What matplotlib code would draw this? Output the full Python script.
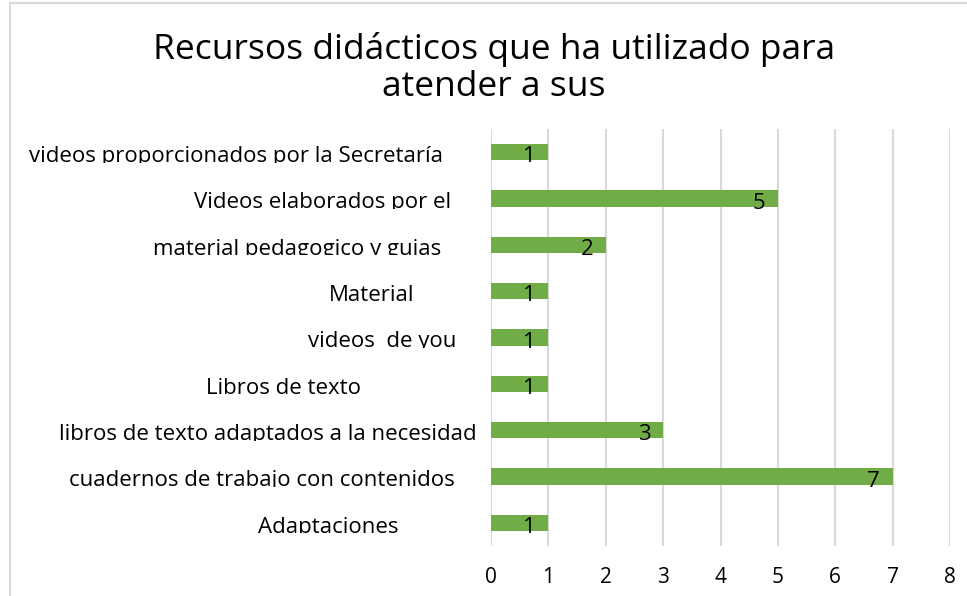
import numpy as np
import matplotlib
matplotlib.use('Agg')
import matplotlib.pyplot as plt
from matplotlib.transforms import Bbox, TransformedBbox, blended_transform_factory
from matplotlib.lines import Line2D

# data, listed top to bottom as in the chart
categories = ['videos proporcionados por la Secretaría',
              'Videos elaborados por el',
              'material pedagogico y guias ',
              'Material',
              'videos  de you',
              'Libros de texto',
              'libros de texto adaptados a la necesidad',
              'cuadernos de trabajo con contenidos',
              'Adaptaciones']
values = [1, 5, 2, 1, 1, 1, 3, 7, 1]
title = 'Recursos didácticos que ha utilizado para\natender a sus'

# label centres in pixels (layout only)
label_cx = [236, 323, 300, 372, 382, 283, 268, 262, 328]

plt.rcParams['font.family'] = ['Open Sans', 'DejaVu Sans']
W, H = 967, 596
fig = plt.figure(figsize=(W/100, H/100), dpi=100)
ax = fig.add_axes([491/W, 50/H, 459/W, 417/H])

y = np.arange(len(categories))
ax.barh(y, values, height=0.35, color='#70ad47', zorder=3)
ax.set_xlim(0, 8)
ax.set_ylim(len(categories)-0.5, -0.5)
ax.set_xticks(range(9))
ax.set_yticks([])
ax.grid(axis='x', color='#d9d9d9', linewidth=1.5, zorder=0)
for s in ax.spines.values():
    s.set_visible(False)
ax.tick_params(axis='x', length=0, pad=15, labelsize=15)

for yi, v in zip(y, values):
    ax.text(v - 0.33, yi + 0.1, str(v), ha='center', va='center', fontsize=16, zorder=4)

# category labels, bottoms cut off like in the original chart
trans = blended_transform_factory(fig.transFigure, ax.transData)
for yi, lab, cx in zip(y, categories, label_cx):
    t = fig.text(cx/W, yi + 0.09, lab, ha='center', va='center', fontsize=16, transform=trans)
    t.set_clip_box(TransformedBbox(Bbox([[0, yi - 0.6], [1, yi + 0.23]]), trans))
    t.set_clip_on(True)

fig.text(494/W, 1 - 68/H, title, ha='center', va='center', fontsize=25.5,
         linespacing=1.1)

# chart border (left and top visible)
fig.add_artist(Line2D([10/W, 10/W], [0, 1 - 3/H], color='#d9d9d9', linewidth=1.5,
                      transform=fig.transFigure))
fig.add_artist(Line2D([10/W, 1], [1 - 3/H, 1 - 3/H], color='#d9d9d9', linewidth=1.5,
                      transform=fig.transFigure))

fig.savefig('out.png', dpi=100)
